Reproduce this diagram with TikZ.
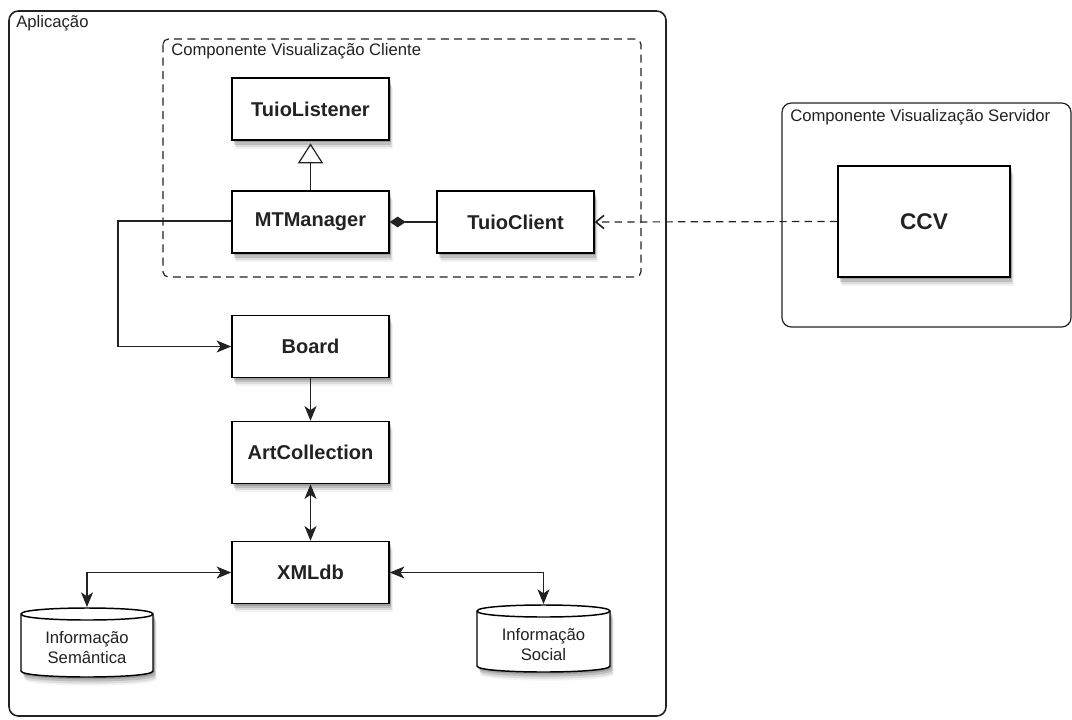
\documentclass[tikz,border=0pt]{standalone}
\usepackage{fontspec}
\setmainfont{Liberation Sans}
\usetikzlibrary{arrows.meta,shadows,positioning}
\definecolor{linec}{HTML}{222222}
\definecolor{textc}{HTML}{222222}
\tikzset{
  softshadow/.style={
    drop shadow={shadow xshift=1.2pt, shadow yshift=-1.8pt, opacity=.16, fill=black},
    drop shadow={shadow xshift=1.8pt, shadow yshift=-3.4pt, opacity=.13, fill=black},
    drop shadow={shadow xshift=2.4pt, shadow yshift=-5pt, opacity=.09, fill=black},
    drop shadow={shadow xshift=2.8pt, shadow yshift=-6.4pt, opacity=.05, fill=black}},
  classbox/.style={draw=black, line width=1.1pt, fill=white, softshadow,
    minimum width=117.75pt, minimum height=46.5pt, inner sep=0pt,
    font=\fontsize{15}{18}\selectfont\bfseries, text=textc},
  smalllabel/.style={font=\fontsize{12.5}{15}\selectfont, text=textc, inner sep=0pt},
  conn/.style={draw=linec, line width=0.9pt},
  tip/.style={-{Stealth[length=11pt,width=9pt,inset=3pt]}},
  tips/.style={{Stealth[length=11pt,width=9pt,inset=3pt]}-{Stealth[length=11pt,width=9pt,inset=3pt]}},
}
\begin{document}
\begin{tikzpicture}[x=0.75pt,y=-0.75pt]
\useasboundingbox (0,0) rectangle (1072,719);
\fill[white] (0,0) rectangle (1072,719);

% containers
\draw[draw=linec, line width=1.2pt, rounded corners=7pt] (9,11) rectangle (666,716);
\node[smalllabel, anchor=base west] (lapp) at (16,27) {Aplicação};

\draw[draw=linec, line width=0.9pt, dash pattern=on 6pt off 4pt, rounded corners=4pt] (163,39) rectangle (641,277);
\node[smalllabel, anchor=base west] (lcli) at (171,55) {Componente Visualização Cliente};

\draw[draw=linec, line width=0.9pt, rounded corners=7pt] (782,103) rectangle (1071,327);
\node[smalllabel, anchor=base west] (lsrv) at (790,121) {Componente Visualização Servidor};

% class boxes
\node[classbox] (tl) at (310.5,109) {TuioListener};
\node[classbox] (mt) at (310.5,222) {MTManager};
\node[classbox] (tc) at (515.5,222) {TuioClient};
\node[classbox] (board) at (310.5,346.5) {Board};
\node[classbox] (art) at (310.5,452.5) {ArtCollection};
\node[classbox] (xml) at (310.5,572.5) {XMLdb};
\node[classbox, minimum width=129pt, minimum height=83.25pt,
      font=\fontsize{17}{20}\selectfont\bfseries] (ccv) at (924,221.5) {CCV};

% cylinders
\fill[white, softshadow] (21,614) -- (21,671) .. controls (21,679) and (153,679) .. (153,671)
   -- (153,614) .. controls (153,606) and (21,606) .. (21,614) -- cycle;
\draw[draw=black, line width=1.1pt] (21,614) -- (21,671) .. controls (21,679) and (153,679) .. (153,671)
   -- (153,614) .. controls (153,606) and (21,606) .. (21,614) -- cycle;
\draw[draw=black, line width=1.1pt] (21,614) .. controls (21,622) and (153,622) .. (153,614);
\node[smalllabel, align=center] (sem) at (87,648) {Informação\\Semântica};
\coordinate (semtop) at (87,607);

\fill[white, softshadow] (477,611) -- (477,666) .. controls (477,674) and (610,674) .. (610,666)
   -- (610,611) .. controls (610,603) and (477,603) .. (477,611) -- cycle;
\draw[draw=black, line width=1.1pt] (477,611) -- (477,666) .. controls (477,674) and (610,674) .. (610,666)
   -- (610,611) .. controls (610,603) and (477,603) .. (477,611) -- cycle;
\draw[draw=black, line width=1.1pt] (477,611) .. controls (477,619) and (610,619) .. (610,611);
\node[smalllabel, align=center] (soc) at (543.5,645) {Informação\\Social};
\coordinate (soctop) at (543.5,604);

% connectors
\draw[conn, -{Triangle[open, length=15pt, width=19pt, line width=0.9pt]}, shorten >=2pt] (mt.north) -- (tl.south);
\draw[conn, -{Diamond[length=12pt, width=8pt]}] (tc.west) -- (mt.east);
\draw[conn, dash pattern=on 5.5pt off 4pt, -{Straight Barb[length=6pt, width=10pt, line width=1.2pt]}] (ccv.west) -- (tc.east);
\coordinate (bend) at (118,221);
\draw[conn, tip] (mt.west |- bend) -- (bend) |- (board.west);
\draw[conn, tip] (board.south) -- (art.north);
\draw[conn, tips] (art.south) -- (xml.north);
\draw[conn, tips] (xml.west) -| (semtop);
\draw[conn, tips] (xml.east) -| (soctop);
\end{tikzpicture}
\end{document}
